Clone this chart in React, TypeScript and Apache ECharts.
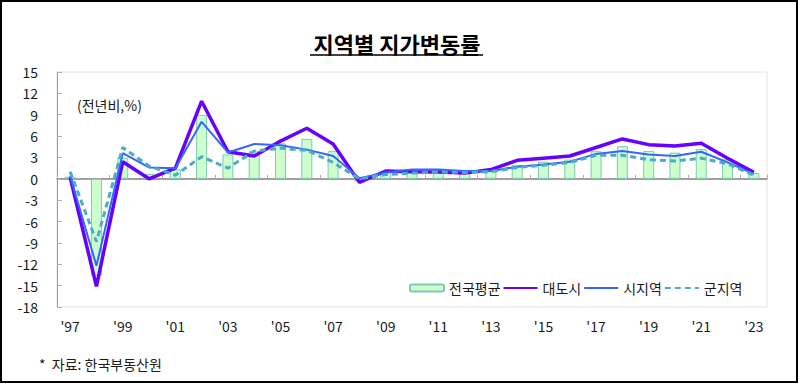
import React, { useEffect, useRef } from "react";
import * as echarts from "echarts";

const years = [
  "1997", "1998", "1999", "2000", "2001", "2002", "2003", "2004", "2005",
  "2006", "2007", "2008", "2009", "2010", "2011", "2012", "2013", "2014",
  "2015", "2016", "2017", "2018", "2019", "2020", "2021", "2022", "2023",
];
const national = [
  0.29, -13.6, 2.94, 0.67, 1.32, 8.98, 3.43, 3.86, 4.98, 5.61, 3.88, -0.31, 0.96,
  1.05, 1.17, 0.96, 1.14, 1.96, 2.4, 2.7, 3.88, 4.58, 3.92, 3.68, 4.17, 2.73, 0.82,
];
const metro = [
  0.2, -15.1, 2.4, 0.0, 1.5, 10.9, 3.8, 3.2, 5.3, 7.1, 4.9, -0.5, 1.1, 1.0, 0.95,
  0.8, 1.3, 2.6, 2.9, 3.2, 4.4, 5.6, 4.8, 4.6, 5.0, 2.9, 0.9,
];
const city = [
  0.4, -12.2, 3.6, 1.6, 1.5, 8.0, 3.7, 4.9, 4.7, 4.1, 3.2, 0.1, 0.9, 1.3, 1.3,
  1.1, 1.1, 1.7, 2.0, 2.4, 3.5, 3.9, 3.4, 3.2, 3.8, 2.3, 0.7,
];
const county = [
  1.0, -8.8, 4.4, 1.8, 0.5, 3.1, 1.5, 3.9, 4.3, 4.0, 2.3, 0.0, 0.6, 0.8, 0.95,
  0.9, 1.0, 1.6, 1.9, 2.3, 3.3, 3.3, 2.7, 2.5, 2.9, 2.1, 0.5,
];
const seriesNames = ["전국평균", "대도시", "시지역", "군지역"];
const titleText = "지역별 지가변동률";
const unitText = "(전년비,%)";
const sourceText = "*  자료: 한국부동산원";

const FONT = "'Noto Sans CJK KR', 'Noto Sans', sans-serif";

export default function App() {
  const ref = useRef<HTMLDivElement>(null);
  useEffect(() => {
    document.body.style.margin = "0";
    const chart = echarts.init(ref.current!, null, { renderer: "svg" });
    chart.setOption({
      animation: false,
      textStyle: { fontFamily: FONT },
      grid: {
        left: 57,
        right: 31,
        top: 72,
        bottom: 77,
        show: true,
        borderColor: "#e4e4e4",
        borderWidth: 1,
        backgroundColor: "transparent",
      },
      legend: {
        left: 404,
        top: 276,
        itemWidth: 34,
        itemHeight: 7,
        itemGap: 2,
        textStyle: { fontSize: 14, color: "#1a1a1a", fontFamily: FONT },
        data: [
          { name: seriesNames[0] },
          { name: seriesNames[1], itemStyle: { opacity: 0 } },
          { name: seriesNames[2], itemStyle: { opacity: 0 } },
          { name: seriesNames[3], itemStyle: { opacity: 0 } },
        ],
      },
      xAxis: [
        {
          type: "category",
          data: years,
          position: "bottom",
          axisLine: { show: false, onZero: false },
          axisTick: { show: false },
          axisLabel: {
            interval: 1,
            margin: 12,
            fontSize: 14,
            color: "#1a1a1a",
            fontFamily: FONT,
            formatter: (v: string) => "'" + v.slice(2),
          },
          splitLine: { show: false },
        },
        {
          type: "category",
          data: years,
          position: "bottom",
          axisLine: { show: true, onZero: true, lineStyle: { color: "#808080", width: 1.5 } },
          axisTick: { show: true, inside: true, length: 4, lineStyle: { color: "#b0b0b0" } },
          axisLabel: { show: false },
          splitLine: { show: false },
        },
      ],
      yAxis: {
        type: "value",
        min: -18,
        max: 15,
        interval: 3,
        axisLine: { show: true, lineStyle: { color: "#9a9a9a" } },
        axisTick: { show: true, inside: true, length: 5, lineStyle: { color: "#b0b0b0" } },
        axisLabel: { fontSize: 14, color: "#1a1a1a", margin: 19, fontFamily: FONT },
        splitLine: { show: false },
      },
      series: [
        {
          name: seriesNames[0],
          type: "bar",
          data: national,
          barWidth: 11,
          itemStyle: { color: "#ccffcc", borderColor: "#80c8b4", borderWidth: 1 },
        },
        {
          name: seriesNames[1],
          type: "line",
          data: metro,
          symbol: "none",
          lineStyle: { color: "#6600ff", width: 3.5 },
          itemStyle: { color: "#6600ff" },
        },
        {
          name: seriesNames[2],
          type: "line",
          data: city,
          symbol: "none",
          lineStyle: { color: "#3366ff", width: 2 },
          itemStyle: { color: "#3366ff" },
        },
        {
          name: seriesNames[3],
          type: "line",
          data: county,
          symbol: "none",
          lineStyle: { color: "#4bacc6", width: 3, type: [6, 4] },
          itemStyle: { color: "#4bacc6" },
        },
      ],
      graphic: [
        {
          type: "rect",
          shape: { x: 1, y: 1, width: 796, height: 381 },
          style: { fill: "none", stroke: "#000", lineWidth: 2 },
          silent: true,
        },
        {
          type: "text",
          x: 397,
          y: 43,
          style: {
            text: titleText,
            fontSize: 22,
            fontWeight: "bold",
            fontFamily: FONT,
            fill: "#000",
            align: "center",
            verticalAlign: "middle",
          },
        },
        {
          type: "line",
          shape: { x1: 310, y1: 55, x2: 483, y2: 55 },
          style: { stroke: "#000", lineWidth: 1.5 },
        },
        {
          type: "text",
          x: 77,
          y: 105,
          style: {
            text: unitText,
            fontSize: 14,
            fontFamily: FONT,
            fill: "#1a1a1a",
            verticalAlign: "middle",
          },
        },
        {
          type: "text",
          x: 39,
          y: 364,
          style: {
            text: sourceText,
            fontSize: 14,
            fontFamily: FONT,
            fill: "#1a1a1a",
            verticalAlign: "middle",
          },
        },
      ],
    });
    return () => chart.dispose();
  }, []);
  return <div ref={ref} style={{ width: 798, height: 384 }} />;
}
